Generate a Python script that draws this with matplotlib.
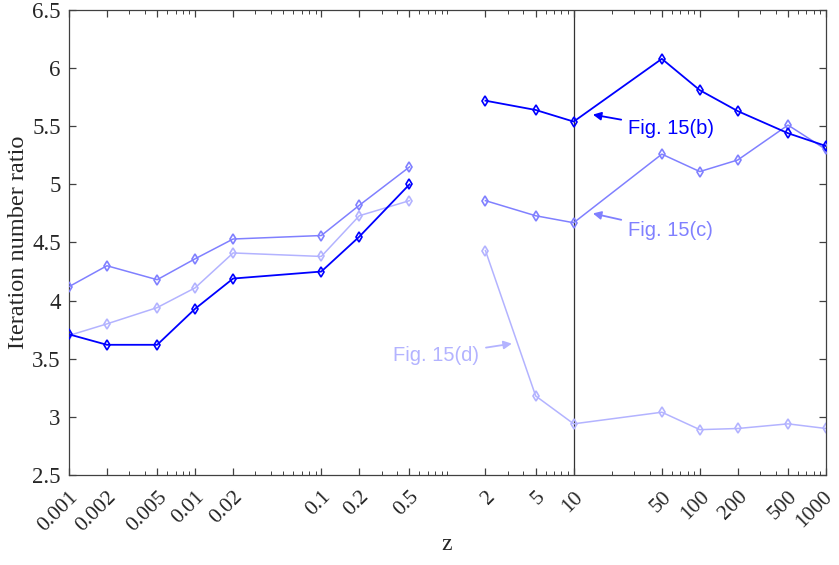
import numpy as np
import matplotlib
matplotlib.use('Agg')
from matplotlib import pyplot as plt
from matplotlib.ticker import FixedLocator, LogLocator, FormatStrFormatter, NullFormatter
from matplotlib.transforms import ScaledTranslation

# z values; the first 8 points and the last 8 are drawn as separate pieces
z = [0.001, 0.002, 0.005, 0.01, 0.02, 0.1, 0.2, 0.5,
     2, 5, 10, 50, 100, 200, 500, 1000]
ratio_b = [3.71, 3.62, 3.62, 3.93, 4.19, 4.25, 4.55, 5.00,
           5.72, 5.64, 5.54, 6.08, 5.81, 5.63, 5.44, 5.33]
ratio_c = [4.12, 4.30, 4.18, 4.36, 4.53, 4.56, 4.82, 5.15,
           4.86, 4.73, 4.67, 5.26, 5.11, 5.21, 5.51, 5.30]
ratio_d = [3.70, 3.80, 3.94, 4.11, 4.41, 4.38, 4.73, 4.86,
           4.43, 3.18, 2.94, 3.04, 2.89, 2.90, 2.94, 2.90]

xticks = [0.001, 0.002, 0.005, 0.01, 0.02, 0.1, 0.2, 0.5,
          2, 5, 10, 50, 100, 200, 500, 1000]
xticklabels = ['0.001', '0.002', '0.005', '0.01', '0.02', '0.1', '0.2', '0.5',
               '2', '5', '10', '50', '100', '200', '500', '1000']

col_b = '#0000ff'
col_c = '#8080ff'
col_d = '#b3b3ff'

plt.rcParams['font.family'] = ['Liberation Serif', 'DejaVu Serif']

fig = plt.figure(figsize=(8.39, 5.65), dpi=100)
ax = fig.add_axes([0.0822, 0.1593, 0.9023, 0.823])

split = 8
for vals, c, lw, zo in [(ratio_d, col_d, 1.1, 2), (ratio_c, col_c, 1.1, 3), (ratio_b, col_b, 1.3, 4)]:
    for sl in (slice(0, split), slice(split, None)):
        ax.plot(z[sl], vals[sl], color=c, lw=lw, marker='d', ms=5.5,
                mfc='none', mec=c, mew=1.2, zorder=zo)

ax.axvline(10, color='#333333', lw=0.9, zorder=1)

ax.set_xscale('log')
ax.set_xlim(0.001, 1000)
ax.set_ylim(2.5, 6.5)
ax.xaxis.set_major_locator(FixedLocator(xticks))
ax.xaxis.set_minor_locator(LogLocator(base=10, subs=np.arange(1, 10), numticks=20))
ax.xaxis.set_minor_formatter(NullFormatter())
ax.set_xticklabels(xticklabels, rotation=45, ha='right', va='top', rotation_mode='anchor')
ax.set_yticks(np.arange(2.5, 6.51, 0.5))
ax.yaxis.set_major_formatter(FormatStrFormatter('%g'))

ax.tick_params(which='both', direction='in', top=True, right=True,
               colors='#404040', labelcolor='#262626')
ax.tick_params(which='major', length=5, width=0.9)
ax.tick_params(which='minor', length=3, width=0.7)
ax.tick_params(axis='x', which='major', pad=9, labelsize=15.5)
ax.tick_params(axis='y', which='major', pad=6, labelsize=16.5)
# nudge the rightmost label so it stays inside the figure
last = ax.get_xticklabels()[-1]
last.set_transform(last.get_transform() + ScaledTranslation(-3 / 100, 0, fig.dpi_scale_trans))
for s in ax.spines.values():
    s.set_color('#404040')
    s.set_linewidth(0.9)

ax.set_xlabel('z', fontsize=17, color='#262626', va='center')
ax.xaxis.set_label_coords(0.499, -0.15)
ax.set_ylabel('Iteration number ratio', fontsize=17.5, color='#262626')
ax.yaxis.set_label_coords(-0.053, 0.5)

# labels pointing at each curve
ann_font = dict(family=['Liberation Sans', 'DejaVu Sans'], fontsize=14.5)
ax.annotate('Fig. 15(b)', xy=(14.2, 5.60), xytext=(27, 5.48), color=col_b,
            ha='left', va='center', **ann_font,
            arrowprops=dict(arrowstyle='-|>', color=col_b, lw=1.3,
                            mutation_scale=12, shrinkA=3, shrinkB=0))
ax.annotate('Fig. 15(c)', xy=(14.2, 4.75), xytext=(27, 4.60), color=col_c,
            ha='left', va='center', **ann_font,
            arrowprops=dict(arrowstyle='-|>', color=col_c, lw=1.3,
                            mutation_scale=12, shrinkA=3, shrinkB=0))
ax.annotate('Fig. 15(d)', xy=(3.24, 3.63), xytext=(1.78, 3.53), color=col_d,
            ha='right', va='center', **ann_font,
            arrowprops=dict(arrowstyle='-|>', color=col_d, lw=1.3,
                            mutation_scale=12, shrinkA=3, shrinkB=0))

plt.savefig('out.png', dpi=100)
